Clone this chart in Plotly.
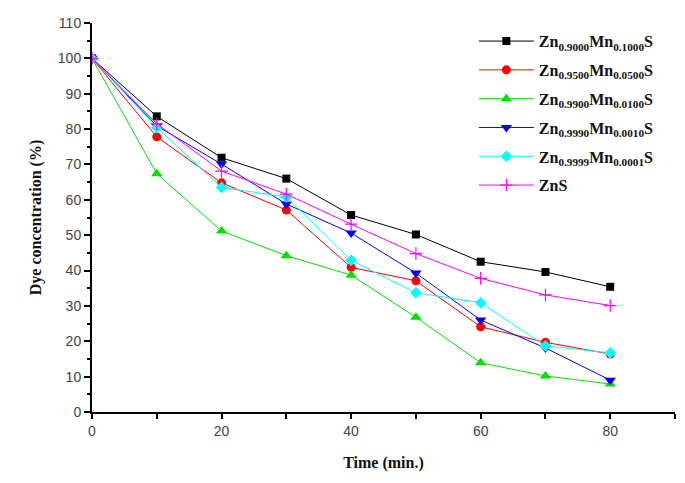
import plotly.graph_objects as go

time = [0, 10, 20, 30, 40, 50, 60, 70, 80]
zn9000 = [100, 83.6, 71.9, 66.0, 55.7, 50.2, 42.5, 39.6, 35.4]
zn9500 = [100, 77.8, 64.8, 57.1, 40.9, 37.1, 24.1, 19.7, 16.4]
zn9900 = [100, 67.4, 51.2, 44.2, 38.7, 26.8, 13.9, 10.2, 7.9]
zn9990 = [100, 80.9, 70.1, 58.8, 50.6, 39.3, 26.0, 18.1, 9.0]
zn9999 = [100, 80.4, 63.5, 60.8, 42.9, 33.7, 30.9, 18.7, 16.7]
zns = [100, 81.5, 68.1, 61.6, 53.1, 44.8, 37.8, 33.1, 30.1]

names = [
    "Zn<sub>0.9000</sub>Mn<sub>0.1000</sub>S",
    "Zn<sub>0.9500</sub>Mn<sub>0.0500</sub>S",
    "Zn<sub>0.9900</sub>Mn<sub>0.0100</sub>S",
    "Zn<sub>0.9990</sub>Mn<sub>0.0010</sub>S",
    "Zn<sub>0.9999</sub>Mn<sub>0.0001</sub>S",
    "ZnS",
]
series = [zn9000, zn9500, zn9900, zn9990, zn9999, zns]
colors = ["#000000", "#ff0000", "#00e000", "#0000ff", "#00ffff", "#ff00ff"]
symbols = ["square", "circle", "triangle-up", "triangle-down", "diamond", "cross-thin"]
sizes = [8, 9, 10, 10, 9, 9]

x_ticks = [0, 10, 20, 30, 40, 50, 60, 70, 80, 90]
x_labels = ["0", "", "20", "", "40", "", "60", "", "80", ""]
y_ticks = [0, 10, 20, 30, 40, 50, 60, 70, 80, 90, 100, 110]

SERIF = "Liberation Serif, Times New Roman, serif"

fig = go.Figure()
for i, (name, ys, c, s, sz) in enumerate(zip(names, series, colors, symbols, sizes)):
    marker = dict(symbol=s, color=c, size=sz)
    if s == "cross-thin":
        marker["line"] = dict(color=c, width=1.2)
    fig.add_trace(go.Scatter(
        x=time, y=ys, name="<b>" + name + "</b>", mode="lines+markers",
        line=dict(color=c, width=1), marker=marker, legendgroup=f"g{i}",
    ))

# page body has an 8px margin, so margins are offset by 8px
fig.update_layout(
    width=685, height=483,
    margin=dict(l=84, r=18, t=15, b=79),
    paper_bgcolor="white", plot_bgcolor="white",
    font=dict(family="Liberation Sans, Arial", size=14, color="#444444"),
    legend=dict(
        x=0.655, y=0.997, xanchor="left", yanchor="top",
        font=dict(family=SERIF, size=16, color="#111111"),
        bgcolor="rgba(0,0,0,0)", itemwidth=55, tracegroupgap=5,
    ),
    showlegend=True,
)
fig.update_xaxes(
    range=[0, 90], tickvals=x_ticks, ticktext=x_labels, automargin=False,
    showline=True, linecolor="black", linewidth=2, mirror=False,
    ticks="outside", ticklen=5, tickwidth=2, tickcolor="black",
    showgrid=False, zeroline=False,
    title=dict(text="<b>Time (min.)</b>", font=dict(family=SERIF, size=16, color="#111111"), standoff=19),
)
fig.update_yaxes(
    range=[0, 110], tickvals=y_ticks, automargin=False,
    showline=True, linecolor="black", linewidth=2, mirror=False,
    ticks="outside", ticklen=6, tickwidth=2, tickcolor="black",
    minor=dict(dtick=5, ticks="outside", ticklen=3, tickwidth=1.5, tickcolor="black"),
    showgrid=False, zeroline=False,
    title=dict(text="<b>Dye concentration (%)</b>", font=dict(family=SERIF, size=16, color="#111111"), standoff=12),
)

fig.write_html("out.html")
